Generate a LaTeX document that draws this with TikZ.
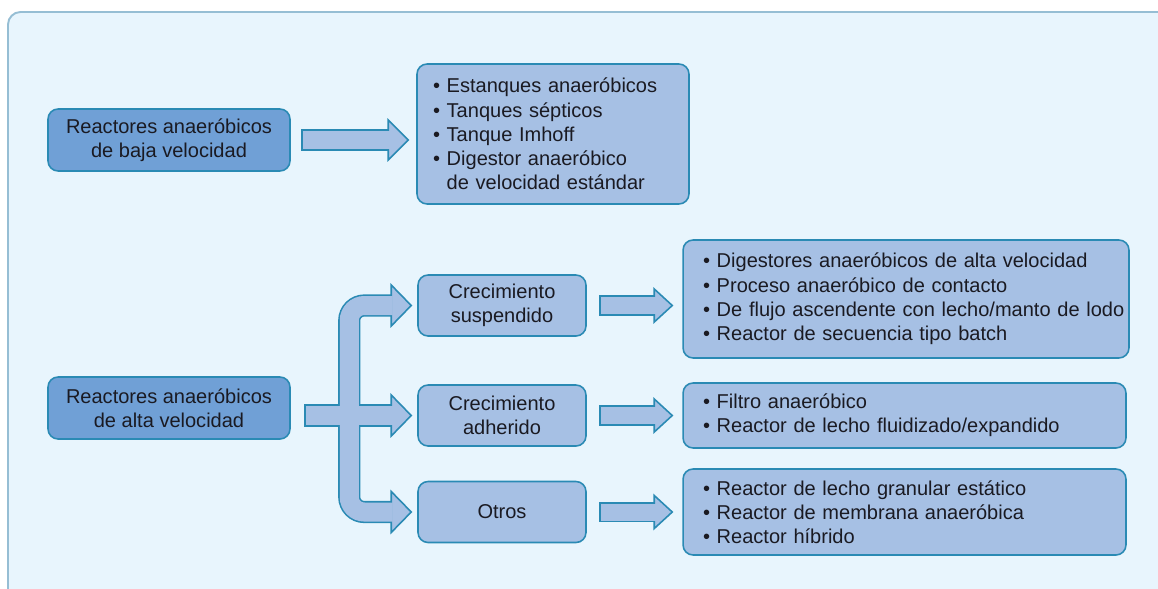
\documentclass[tikz,border=0pt]{standalone}
\usepackage{fontspec}
\setmainfont{Liberation Sans}
\usetikzlibrary{calc}

\definecolor{panelfill}{HTML}{E8F5FD}
\definecolor{panelline}{HTML}{96BED4}
\definecolor{darkbox}{HTML}{70A0D6}
\definecolor{lightbox}{HTML}{A6C0E4}
\definecolor{boxline}{HTML}{2A8AB4}
\definecolor{txt}{HTML}{1A1A22}

% one bullet line, kept on one line
\newcommand{\bul}[1]{\mbox{\textbullet~#1}}

\begin{document}
\begin{tikzpicture}[
    x=0.02cm, y=-0.02cm,
    every node/.style={font=\fontsize{11.4}{13.8}\selectfont, text=txt},
    mainbox/.style={rectangle, draw=boxline, line width=0.9pt, rounded corners=0.2cm, fill=darkbox, minimum width=4.84cm, minimum height=1.24cm, align=center},
    subbox/.style={rectangle, draw=boxline, line width=0.9pt, rounded corners=0.2cm, fill=lightbox, minimum width=3.36cm, minimum height=1.22cm, align=center},
    listbox/.style={rectangle, draw=boxline, line width=0.9pt, rounded corners=0.2cm, fill=lightbox, align=left, inner xsep=0.4cm},
    arrowline/.style={draw=boxline, line width=0.38cm+1.8pt},
    arrowfill/.style={draw=lightbox, line width=0.38cm},
    arrowhead/.style={draw=boxline, fill=lightbox, line width=0.9pt, line join=miter}
]
\useasboundingbox (0,0) rectangle (1158,588);
\clip (0,0) rectangle (1158,588);

% background panel
\draw[panelline, fill=panelfill, line width=1.1pt, rounded corners=0.25cm] (8,12) rectangle (1180,610);

% ============ LOW RATE ============
\node[mainbox] (baja) at (169,140) {Reactores anaeróbicos\\de baja velocidad};
\node[listbox, inner xsep=0.32cm, text width=4.8cm, minimum height=2.8cm] (lista) at (553,134) {%
  \bul{Estanques anaeróbicos}\\
  \bul{Tanques sépticos}\\
  \bul{Tanque Imhoff}\\
  \bul{Digestor anaeróbico}\\
  \mbox{\phantom{\textbullet~}de velocidad estándar}};

% ============ HIGH RATE ============
\node[mainbox] (alta) at (169,408) {Reactores anaeróbicos\\de alta velocidad};
\node[subbox] (susp) at (502,305.5) {Crecimiento\\suspendido};
\node[subbox] (adher) at (502,415.5) {Crecimiento\\adherido};
\node[subbox] (otros) at (502,512) {Otros};

\node[listbox, text width=8.12cm, minimum height=2.36cm] (listb) at (906,299) {%
  \bul{Digestores anaeróbicos de alta velocidad}\\
  \bul{Proceso anaeróbico de contacto}\\
  \bul{De flujo ascendente con lecho/manto de lodo}\\
  \bul{Reactor de secuencia tipo batch}};
\node[listbox, text width=8.06cm, minimum height=1.3cm] (listc) at (904.5,415.5) {%
  \bul{Filtro anaeróbico}\\
  \bul{Reactor de lecho fluidizado/expandido}};
\node[listbox, text width=8.06cm, minimum height=1.72cm] (listd) at (904.5,512) {%
  \bul{Reactor de lecho granular estático}\\
  \bul{Reactor de membrana anaeróbica}\\
  \bul{Reactor híbrido}};

% ============ BLOCK ARROWS ============
% outlines of the shafts
\draw[arrowline] ($(baja.east)+(10.4,0)$) -- ($(lista.west |- baja.east)+(-28,0)$);
\foreach \a/\b in {susp/listb, adher/listc, otros/listd}
  \draw[arrowline, line width=0.34cm+1.8pt] ($(\a.east)+(12.4,0)$) -- ($(\b.west |- \a.east)+(-28,0)$);
\draw[arrowline, rounded corners=0.3cm] ($(susp.west)+(-26,0)$) -| ($(alta.east)+(58.5,0)$) |- ($(otros.west)+(-26,0)$);
\draw[arrowline] ($(alta.east |- adher.west)+(13.4,0)$) -- ($(adher.west)+(-26,0)$);

% heads
\draw[arrowhead] ($(lista.west |- baja.east)+(-28,-20)$) -- ($(lista.west |- baja.east)+(-8,0)$) -- ($(lista.west |- baja.east)+(-28,20)$) -- cycle;
\foreach \a/\b in {susp/listb, adher/listc, otros/listd}
  \draw[arrowhead] ($(\b.west |- \a.east)+(-28,-16.5)$) -- ($(\b.west |- \a.east)+(-10,0)$) -- ($(\b.west |- \a.east)+(-28,16.5)$) -- cycle;
\foreach \n in {susp, adher, otros}
  \draw[arrowhead] ($(\n.west)+(-26,-20.5)$) -- ($(\n.west)+(-6,0)$) -- ($(\n.west)+(-26,20.5)$) -- cycle;

% fill of the shafts
\draw[arrowfill] ($(baja.east)+(12,0)$) -- ($(lista.west |- baja.east)+(-26.5,0)$);
\foreach \a/\b in {susp/listb, adher/listc, otros/listd}
  \draw[arrowfill, line width=0.34cm] ($(\a.east)+(14,0)$) -- ($(\b.west |- \a.east)+(-26.5,0)$);
\draw[arrowfill, rounded corners=0.3cm] ($(susp.west)+(-24.5,0)$) -| ($(alta.east)+(58.5,0)$) |- ($(otros.west)+(-24.5,0)$);
\draw[arrowfill] ($(alta.east |- adher.west)+(15,0)$) -- ($(adher.west)+(-24.5,0)$);

\end{tikzpicture}
\end{document}
